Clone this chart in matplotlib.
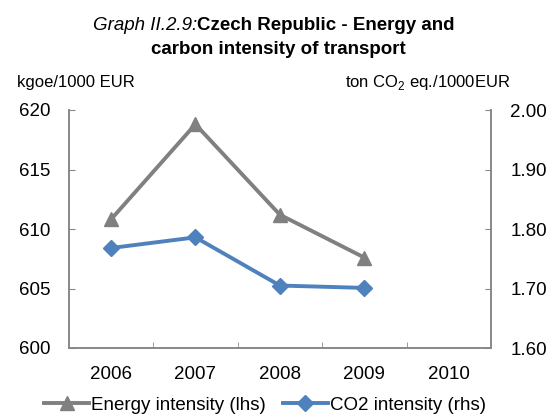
import matplotlib
matplotlib.use("Agg")
import matplotlib.pyplot as plt
import numpy as np

FONT = "Liberation Sans"
plt.rcParams["font.family"] = FONT
plt.rcParams["mathtext.fontset"] = "custom"
plt.rcParams["mathtext.rm"] = FONT

GRAY = "#808080"
BLUE = "#4F81BD"
AXIS_GRAY = "#888888"

# data
years = ["2006", "2007", "2008", "2009", "2010"]
energy = [610.8, 618.8, 611.2, 607.6, np.nan]   # kgoe/1000 EUR (lhs)
co2 = [1.768, 1.786, 1.705, 1.701, np.nan]      # ton CO2 eq./1000 EUR (rhs)
left_ticks = [600, 605, 610, 615, 620]
right_ticks = [1.60, 1.70, 1.80, 1.90, 2.00]

fig = plt.figure(figsize=(5.6, 4.17), dpi=100)
fig.patch.set_facecolor("white")
ax = fig.add_axes([68.7 / 560, 1 - 348 / 417, (491 - 68.7) / 560, (348 - 110) / 417])
ax2 = ax.twinx()

x = np.arange(len(years))
l1, = ax.plot(x, energy, color=GRAY, linewidth=2.8, marker="^", markersize=10,
              label="Energy intensity (lhs)", zorder=3)
l2, = ax2.plot(x, co2, color=BLUE, linewidth=2.8, marker="D", markersize=8,
               label="CO2 intensity (rhs)", zorder=3)

ax.set_xlim(-0.5, len(years) - 0.5)
ax.set_ylim(left_ticks[0], left_ticks[-1])
ax2.set_ylim(right_ticks[0], right_ticks[-1])

ax.set_yticks(left_ticks)
ax.set_yticklabels([str(v) for v in left_ticks])
ax2.set_yticks(right_ticks)
ax2.set_yticklabels([f"{v:.2f}" for v in right_ticks])

ax.set_xticks(x)
ax.set_xticklabels(years)
ax.set_xticks(x[:-1] + 0.5, minor=True)
ax.tick_params(axis="x", which="major", length=0, pad=13, labelsize=13.5)
ax.tick_params(axis="x", which="minor", direction="in", length=4, color=AXIS_GRAY)
ax.tick_params(axis="y", direction="in", length=4, color=AXIS_GRAY, pad=13, labelsize=13.5)
ax2.tick_params(axis="y", direction="in", length=4, color=AXIS_GRAY, pad=14, labelsize=13.5)

for a in (ax, ax2):
    a.spines["top"].set_visible(False)
    for s in ("left", "right", "bottom"):
        a.spines[s].set_color(AXIS_GRAY)
        a.spines[s].set_linewidth(1.2)

# title: italic prefix + bold text
fig.text(197 / 560, 1 - 26 / 417, "Graph II.2.9:", ha="right", va="center",
         fontsize=13.5, fontstyle="italic")
fig.text(197 / 560, 1 - 26 / 417, "Czech Republic - Energy and", ha="left", va="center",
         fontsize=13.5, fontweight="bold")
fig.text(278 / 560, 1 - 50 / 417, "carbon intensity of transport", ha="center", va="center",
         fontsize=13.5, fontweight="bold")

# unit labels
fig.text(17 / 560, 1 - 82 / 417, "kgoe/1000 EUR", ha="left", va="center", fontsize=12)
fig.text(510 / 560, 1 - 82 / 417, "ton CO$_{2}$ eq./1000EUR", ha="right", va="center", fontsize=12)

fig.legend([l1, l2], [l1.get_label(), l2.get_label()], loc="center",
           bbox_to_anchor=(265 / 560, 1 - 405 / 417), ncol=2, frameon=False,
           fontsize=13.5, handlelength=2.4, handletextpad=0.1, columnspacing=0.9,
           borderpad=0.2)

fig.savefig("out.png", dpi=100, facecolor="white")
